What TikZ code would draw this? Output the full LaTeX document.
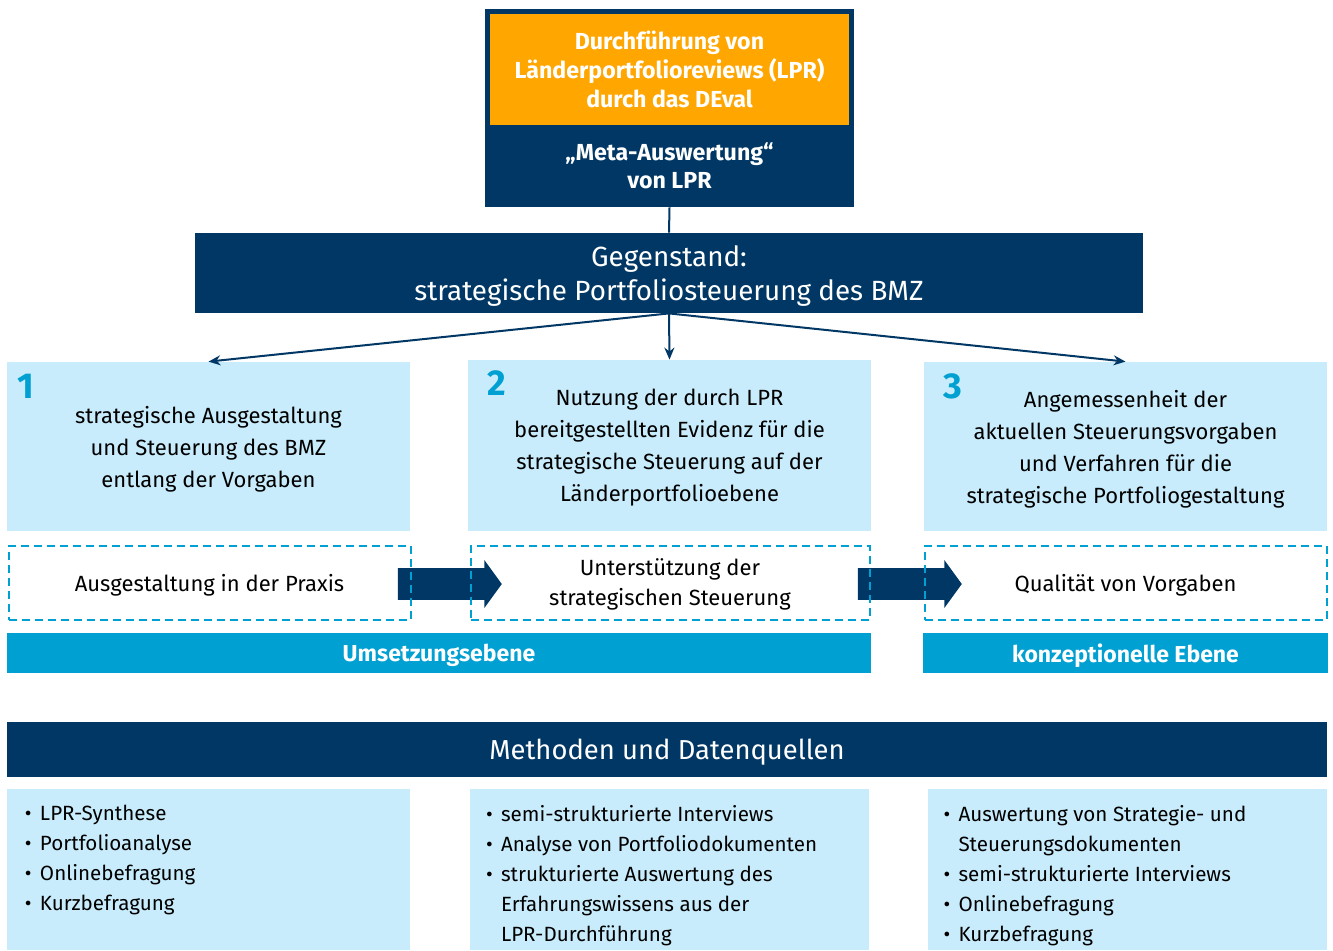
\documentclass[tikz,border=0pt]{standalone}
\usepackage{fontspec}
\setmainfont{Fira Sans}
\usetikzlibrary{arrows.meta,shapes.arrows}

\definecolor{navy}{HTML}{003764}
\definecolor{lpror}{HTML}{FFA600}
\definecolor{hellblau}{HTML}{C8ECFB}
\definecolor{cyanblau}{HTML}{00A0D2}

\newcommand{\bul}{\makebox[7.5pt][l]{\textbullet}}
\newcommand{\ein}{\hspace*{7.5pt}}

\tikzset{
    panel/.style={fill=hellblau, inner sep=0pt, align=center, text depth=0pt,
        font=\fontsize{11}{16}\selectfont},
    navybox/.style={fill=navy, text=white, inner sep=0pt, align=center},
    dashbox/.style={draw=cyanblau, line width=1pt, dash pattern=on 4pt off 2.5pt,
        inner sep=0pt, align=center, text depth=0pt, font=\fontsize{11}{15}\selectfont},
    ebene/.style={fill=cyanblau, text=white, inner sep=0pt, text depth=0pt,
        font=\bfseries\fontsize{11.5}{13}\selectfont},
    nummer/.style={text=cyanblau, inner sep=0pt, font=\bfseries\fontsize{18}{18}\selectfont},
    liste/.style={anchor=north west, inner sep=0pt, align=left,
        font=\fontsize{10.3}{15}\selectfont},
    pfeil/.style={single arrow, fill=navy, inner xsep=0pt, inner ysep=7.75pt,
        minimum height=52pt, minimum width=23.5pt, single arrow head extend=4pt,
        single arrow tip angle=108},
    conn/.style={navy, line width=1pt},
}

\begin{document}
\begin{tikzpicture}[x=0.5pt, y=-0.5pt]
    \useasboundingbox (0,0) rectangle (1333,950);

    % oben: LPR und Meta-Auswertung
    \node[navybox, minimum width=184.5pt, minimum height=41pt,
        font=\bfseries\fontsize{11.6}{14}\selectfont] (meta) at (669.5,166)
        {„Meta-Auswertung“\\von LPR};
    \node[fill=lpror, draw=navy, line width=2.5pt, text=white, align=center,
        inner sep=0pt, minimum width=182pt, minimum height=58pt,
        font=\bfseries\fontsize{11.6}{14.5}\selectfont] (lpr) at (669.5,69.5)
        {Durchführung von\\Länderportfolioreviews (LPR)\\durch das DEval};

    \node[navybox, minimum width=474pt, minimum height=40pt, text depth=0pt,
        font=\fontsize{13.9}{17}\selectfont] (geg) at (669,273)
        {Gegenstand:\\strategische Portfoliosteuerung des BMZ};
    \draw[conn] (meta.south) -- (geg.north);

    % drei Fragen
    \node[panel, minimum width=201.5pt, minimum height=84.5pt] (f1) at (208.5,446.5)
        {strategische Ausgestaltung\\und Steuerung des BMZ\\entlang der Vorgaben};
    \node[panel, minimum width=201.5pt, minimum height=85.5pt] (f2) at (669.5,445.5)
        {Nutzung der durch LPR\\bereitgestellten Evidenz für die\\strategische Steuerung auf der\\Länderportfolioebene};
    \node[panel, minimum width=201.5pt, minimum height=84.5pt] (f3) at (1125.5,446.5)
        {Angemessenheit der\\aktuellen Steuerungsvorgaben\\und Verfahren für die\\strategische Portfoliogestaltung};
    \node[nummer] (n1) at ([shift={(9.5pt,-12.5pt)}]f1.north west) {1};
    \node[nummer] (n2) at ([shift={(14.5pt,-11.5pt)}]f2.north west) {2};
    \node[nummer] (n3) at ([shift={(14.5pt,-12.5pt)}]f3.north west) {3};

    \foreach \ziel in {f1,f2,f3}
        \draw[conn, -{Stealth[length=6pt,width=5pt]}] (geg.south) -- (\ziel.north);

    % Ebenen
    \node[pfeil] (p1) at (444,584) {};
    \node[pfeil] (p2) at (904,584) {};
    \node[dashbox, minimum width=201pt, minimum height=37pt] (d1) at (209.5,582.5)
        {Ausgestaltung in der Praxis};
    \node[dashbox, minimum width=199.5pt, minimum height=37pt] (d2) at (670,582.5)
        {Unterstützung der\\strategischen Steuerung};
    \node[dashbox, minimum width=201pt, minimum height=37pt] (d3) at (1125.5,582.5)
        {Qualität von Vorgaben};

    \node[ebene, minimum width=432pt, minimum height=20pt] (umsetz) at (439,653) {Umsetzungsebene};
    \node[ebene, minimum width=202.5pt, minimum height=20pt] (konz) at (1125.5,653) {konzeptionelle Ebene};

    % Methoden
    \node[navybox, minimum width=660pt, minimum height=27.5pt, text depth=0pt,
        font=\fontsize{13.7}{16}\selectfont] (meth) at (667,749.5) {Methoden und Datenquellen};

    \node[panel, minimum width=201.5pt, minimum height=80.5pt] (m1) at (208.5,869.5) {};
    \node[panel, minimum width=199.5pt, minimum height=80.5pt] (m2) at (669.5,869.5) {};
    \node[panel, minimum width=199.5pt, minimum height=80.5pt] (m3) at (1127,869.5) {};

    \node[liste] (l1) at ([shift={(9pt,-8pt)}]m1.north west)
        {\bul LPR-Synthese\\\bul Portfolioanalyse\\\bul Onlinebefragung\\\bul Kurzbefragung};
    \node[liste] (l2) at ([shift={(8pt,-8pt)}]m2.north west)
        {\bul semi-strukturierte Interviews\\\bul Analyse von Portfoliodokumenten\\\bul strukturierte Auswertung des\\\ein Erfahrungswissens aus der\\\ein LPR-Durchführung};
    \node[liste] (l3) at ([shift={(8pt,-8pt)}]m3.north west)
        {\bul Auswertung von Strategie- und\\\ein Steuerungsdokumenten\\\bul semi-strukturierte Interviews\\\bul Onlinebefragung\\\bul Kurzbefragung};
\end{tikzpicture}
\end{document}
